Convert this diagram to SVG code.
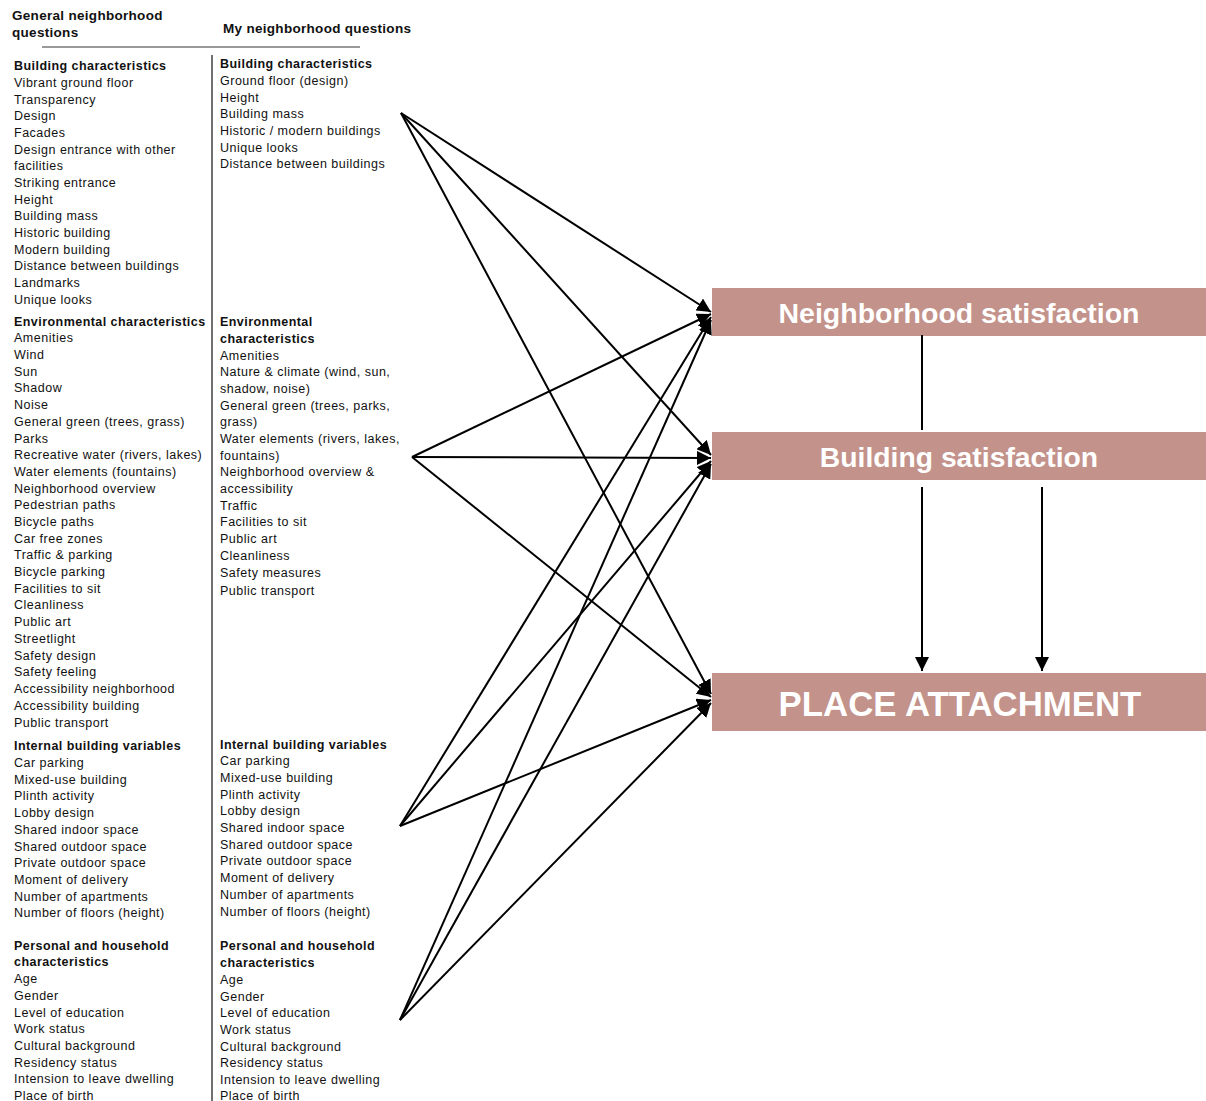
<svg xmlns="http://www.w3.org/2000/svg" width="1206" height="1101" viewBox="0 0 1206 1101">
<style>
text{font-family:"Liberation Sans",Arial,sans-serif;fill:#111}
.t{font-size:12.5px;letter-spacing:0.5px}
.b{font-size:12.5px;font-weight:bold;letter-spacing:0.45px}
.h{font-size:13.5px;font-weight:bold;letter-spacing:0.3px}
.box{fill:#c3928a}
.bt{font-family:"Liberation Sans",Arial,sans-serif;font-weight:bold;fill:#fff;text-anchor:middle}
.c{stroke:#000;stroke-width:2;fill:none}
</style>
<defs>
<marker id="ah" viewBox="0 0 10 10" refX="10" refY="5" markerWidth="7" markerHeight="7" markerUnits="strokeWidth" orient="auto">
<path d="M0,0 L10,5 L0,10 z" fill="#000"/>
</marker>
</defs>
<rect width="1206" height="1101" fill="#fff"/>
<g id="headers">
<text class="h" x="12" y="20">General neighborhood</text>
<text class="h" x="12" y="37">questions</text>
<text class="h" x="223" y="33">My neighborhood questions</text>
<line x1="42" y1="47" x2="360" y2="47" stroke="#777" stroke-width="1.3"/>
<line x1="212" y1="55" x2="212" y2="1101" stroke="#222" stroke-width="1.3"/>
</g>
<g id="general-column">
<text class="b" x="14" y="70">Building characteristics</text>
<text class="t" x="14" y="87">Vibrant ground floor</text>
<text class="t" x="14" y="104">Transparency</text>
<text class="t" x="14" y="120">Design</text>
<text class="t" x="14" y="137">Facades</text>
<text class="t" x="14" y="154">Design entrance with other</text>
<text class="t" x="14" y="170">facilities</text>
<text class="t" x="14" y="187">Striking entrance</text>
<text class="t" x="14" y="204">Height</text>
<text class="t" x="14" y="220">Building mass</text>
<text class="t" x="14" y="237">Historic building</text>
<text class="t" x="14" y="254">Modern building</text>
<text class="t" x="14" y="270">Distance between buildings</text>
<text class="t" x="14" y="287">Landmarks</text>
<text class="t" x="14" y="304">Unique looks</text>
<text class="b" x="14" y="326">Environmental characteristics</text>
<text class="t" x="14" y="342">Amenities</text>
<text class="t" x="14" y="359">Wind</text>
<text class="t" x="14" y="376">Sun</text>
<text class="t" x="14" y="392">Shadow</text>
<text class="t" x="14" y="409">Noise</text>
<text class="t" x="14" y="426">General green (trees, grass)</text>
<text class="t" x="14" y="443">Parks</text>
<text class="t" x="14" y="459">Recreative water (rivers, lakes)</text>
<text class="t" x="14" y="476">Water elements (fountains)</text>
<text class="t" x="14" y="493">Neighborhood overview</text>
<text class="t" x="14" y="509">Pedestrian paths</text>
<text class="t" x="14" y="526">Bicycle paths</text>
<text class="t" x="14" y="543">Car free zones</text>
<text class="t" x="14" y="559">Traffic &amp; parking</text>
<text class="t" x="14" y="576">Bicycle parking</text>
<text class="t" x="14" y="593">Facilities to sit</text>
<text class="t" x="14" y="609">Cleanliness</text>
<text class="t" x="14" y="626">Public art</text>
<text class="t" x="14" y="643">Streetlight</text>
<text class="t" x="14" y="660">Safety design</text>
<text class="t" x="14" y="676">Safety feeling</text>
<text class="t" x="14" y="693">Accessibility neighborhood</text>
<text class="t" x="14" y="710">Accessibility building</text>
<text class="t" x="14" y="727">Public transport</text>
<text class="b" x="14" y="750">Internal building variables</text>
<text class="t" x="14" y="767">Car parking</text>
<text class="t" x="14" y="784">Mixed-use building</text>
<text class="t" x="14" y="800">Plinth activity</text>
<text class="t" x="14" y="817">Lobby design</text>
<text class="t" x="14" y="834">Shared indoor space</text>
<text class="t" x="14" y="851">Shared outdoor space</text>
<text class="t" x="14" y="867">Private outdoor space</text>
<text class="t" x="14" y="884">Moment of delivery</text>
<text class="t" x="14" y="901">Number of apartments</text>
<text class="t" x="14" y="917">Number of floors (height)</text>
<text class="b" x="14" y="950">Personal and household</text>
<text class="b" x="14" y="966">characteristics</text>
<text class="t" x="14" y="983">Age</text>
<text class="t" x="14" y="1000">Gender</text>
<text class="t" x="14" y="1017">Level of education</text>
<text class="t" x="14" y="1033">Work status</text>
<text class="t" x="14" y="1050">Cultural background</text>
<text class="t" x="14" y="1067">Residency status</text>
<text class="t" x="14" y="1083">Intension to leave dwelling</text>
<text class="t" x="14" y="1100">Place of birth</text>
</g>
<g id="my-column">
<text class="b" x="220" y="68">Building characteristics</text>
<text class="t" x="220" y="85">Ground floor (design)</text>
<text class="t" x="220" y="102">Height</text>
<text class="t" x="220" y="118">Building mass</text>
<text class="t" x="220" y="135">Historic / modern buildings</text>
<text class="t" x="220" y="152">Unique looks</text>
<text class="t" x="220" y="168">Distance between buildings</text>
<text class="b" x="220" y="326">Environmental</text>
<text class="b" x="220" y="343">characteristics</text>
<text class="t" x="220" y="360">Amenities</text>
<text class="t" x="220" y="376">Nature &amp; climate (wind, sun,</text>
<text class="t" x="220" y="393">shadow, noise)</text>
<text class="t" x="220" y="410">General green (trees, parks,</text>
<text class="t" x="220" y="426">grass)</text>
<text class="t" x="220" y="443">Water elements (rivers, lakes,</text>
<text class="t" x="220" y="460">fountains)</text>
<text class="t" x="220" y="476">Neighborhood overview &amp;</text>
<text class="t" x="220" y="493">accessibility</text>
<text class="t" x="220" y="510">Traffic</text>
<text class="t" x="220" y="526">Facilities to sit</text>
<text class="t" x="220" y="543">Public art</text>
<text class="t" x="220" y="560">Cleanliness</text>
<text class="t" x="220" y="577">Safety measures</text>
<text class="t" x="220" y="595">Public transport</text>
<text class="b" x="220" y="749">Internal building variables</text>
<text class="t" x="220" y="765">Car parking</text>
<text class="t" x="220" y="782">Mixed-use building</text>
<text class="t" x="220" y="799">Plinth activity</text>
<text class="t" x="220" y="815">Lobby design</text>
<text class="t" x="220" y="832">Shared indoor space</text>
<text class="t" x="220" y="849">Shared outdoor space</text>
<text class="t" x="220" y="865">Private outdoor space</text>
<text class="t" x="220" y="882">Moment of delivery</text>
<text class="t" x="220" y="899">Number of apartments</text>
<text class="t" x="220" y="916">Number of floors (height)</text>
<text class="b" x="220" y="950">Personal and household</text>
<text class="b" x="220" y="967">characteristics</text>
<text class="t" x="220" y="984">Age</text>
<text class="t" x="220" y="1001">Gender</text>
<text class="t" x="220" y="1017">Level of education</text>
<text class="t" x="220" y="1034">Work status</text>
<text class="t" x="220" y="1051">Cultural background</text>
<text class="t" x="220" y="1067">Residency status</text>
<text class="t" x="220" y="1084">Intension to leave dwelling</text>
<text class="t" x="220" y="1100">Place of birth</text>
</g>
<g id="neighborhood-satisfaction">
<rect class="box" x="712" y="288" width="494" height="48"/>
<text class="bt" x="959" y="323" font-size="28.5">Neighborhood satisfaction</text>
</g>
<g id="building-satisfaction">
<rect class="box" x="712" y="432" width="494" height="48"/>
<text class="bt" x="959" y="467" font-size="28.3">Building satisfaction</text>
</g>
<g id="place-attachment">
<rect class="box" x="712" y="673" width="494" height="58"/>
<text class="bt" x="960" y="716" font-size="34.8">PLACE ATTACHMENT</text>
</g>
<g id="connectors">
<line class="c" x1="401" y1="113" x2="711" y2="312" marker-end="url(#ah)"/>
<line class="c" x1="401" y1="113" x2="711" y2="455" marker-end="url(#ah)"/>
<line class="c" x1="401" y1="113" x2="711" y2="694" marker-end="url(#ah)"/>
<line class="c" x1="412" y1="457" x2="711" y2="314" marker-end="url(#ah)"/>
<line class="c" x1="412" y1="457" x2="711" y2="458" marker-end="url(#ah)"/>
<line class="c" x1="412" y1="457" x2="711" y2="697" marker-end="url(#ah)"/>
<line class="c" x1="400" y1="826" x2="711" y2="317" marker-end="url(#ah)"/>
<line class="c" x1="400" y1="826" x2="711" y2="461" marker-end="url(#ah)"/>
<line class="c" x1="400" y1="826" x2="711" y2="700" marker-end="url(#ah)"/>
<line class="c" x1="400" y1="1020" x2="711" y2="320" marker-end="url(#ah)"/>
<line class="c" x1="400" y1="1020" x2="711" y2="464" marker-end="url(#ah)"/>
<line class="c" x1="400" y1="1020" x2="711" y2="703" marker-end="url(#ah)"/>
<line class="c" x1="922" y1="335" x2="922" y2="430"/>
<line class="c" x1="922" y1="487" x2="922" y2="671" marker-end="url(#ah)"/>
<line class="c" x1="1042" y1="487" x2="1042" y2="671" marker-end="url(#ah)"/>
</g>
</svg>
